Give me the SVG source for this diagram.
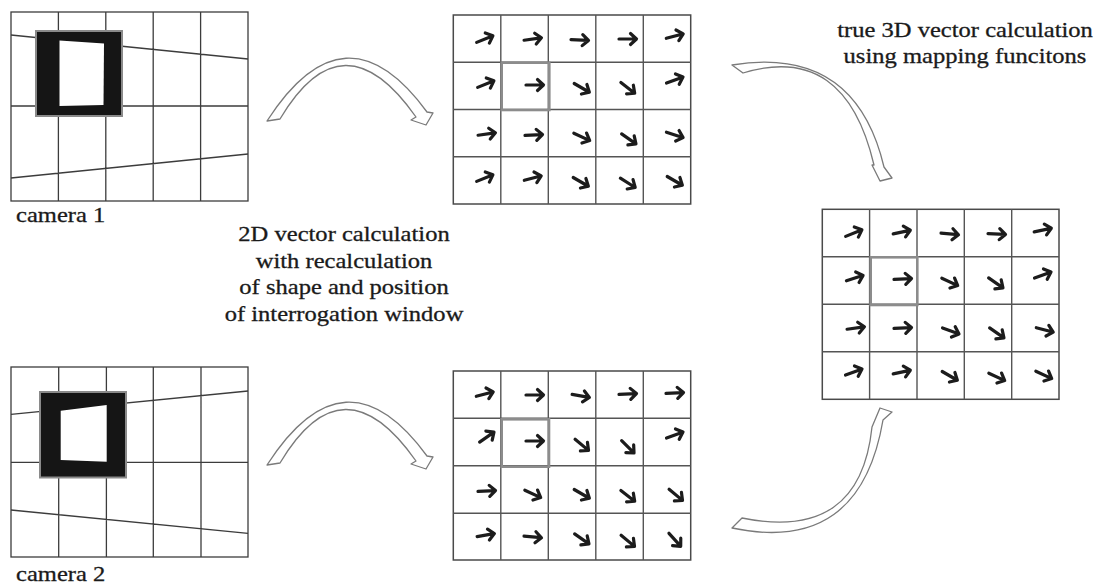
<svg xmlns="http://www.w3.org/2000/svg" xmlns:xlink="http://www.w3.org/1999/xlink" width="1100" height="588" viewBox="0 0 1100 588">
<style>
.bg{fill:#ffffff}
.cg{fill:none;stroke:#3c3c3c;stroke-width:1.3}
.cb{fill:#151515;stroke:#8a8a8a;stroke-width:2}
.win{fill:#ffffff}
.vg{fill:#ffffff;stroke:#4a4a4a;stroke-width:1.5}
.vl{fill:none;stroke:#555;stroke-width:1.4}
.hl{fill:none;stroke:#8c8c8c;stroke-width:2.6}
.vec{fill:none;stroke:#1c1c1c;stroke-width:3.2;stroke-linecap:round;stroke-linejoin:round}
.rib{fill:#ffffff;stroke:#7a7a7a;stroke-width:1.3;stroke-linejoin:round}
.t{font-family:"Liberation Serif","Times New Roman",serif;font-size:21px;fill:#1a1a1a;stroke:#1a1a1a;stroke-width:0.3}
</style>
<defs>
<path id="a" class="vec" d="M-9,0H8M2.5,-5.5L8.5,0L2.5,5.5"/>
</defs>
<rect class="bg" x="0" y="0" width="1100" height="588"/>

<g id="camera1">
<rect class="cg" x="11" y="12" width="237" height="189" fill="#fff"/>
<path class="cg" d="M58.4,12V201M105.8,12V201M153.2,12V201M200.6,12V201M11,106H248M11,35L248,59M11,178L248,154"/>
<rect class="cb" x="36" y="31" width="86" height="85"/>
<polygon class="win" points="59.5,40.5 104,43.5 103.5,105 59.5,106"/>
<text class="t" transform="translate(16,222) scale(1.17,1)">camera 1</text>
</g>

<g id="camera2">
<rect class="cg" x="11" y="367" width="237" height="190" fill="#fff"/>
<path class="cg" d="M58.7,367V557M106.4,367V557M153.3,367V557M201,367V557M11,462.3H248M11,414.3L248,391M11,510L248,533.3"/>
<rect class="cb" x="40" y="392" width="86" height="85.5"/>
<polygon class="win" points="60.7,410.7 106.7,405 106.7,461.7 60.7,460"/>
<text class="t" transform="translate(16,581) scale(1.17,1)">camera 2</text>
</g>

<g id="grid-top">
<rect class="vg" x="453.3" y="15" width="237.4" height="189"/>
<path class="vl" d="M500.8,15V204M548.3,15V204M595.8,15V204M643.3,15V204M453.3,62.3H690.7M453.3,109.5H690.7M453.3,156.8H690.7"/>
<rect class="hl" x="501.7" y="62.7" width="47.6" height="47.3"/>
<use xlink:href="#a" transform="translate(485,39) rotate(-22)"/>
<use xlink:href="#a" transform="translate(533,39) rotate(-8)"/>
<use xlink:href="#a" transform="translate(580,40) rotate(3)"/>
<use xlink:href="#a" transform="translate(628,39) rotate(0)"/>
<use xlink:href="#a" transform="translate(675,36) rotate(-15)"/>
<use xlink:href="#a" transform="translate(486,84) rotate(-22)"/>
<use xlink:href="#a" transform="translate(535,85) rotate(0)"/>
<use xlink:href="#a" transform="translate(582,88) rotate(30)"/>
<use xlink:href="#a" transform="translate(628,88) rotate(38)"/>
<use xlink:href="#a" transform="translate(675,80) rotate(-20)"/>
<use xlink:href="#a" transform="translate(487,134) rotate(-8)"/>
<use xlink:href="#a" transform="translate(534,135) rotate(-3)"/>
<use xlink:href="#a" transform="translate(582,137) rotate(25)"/>
<use xlink:href="#a" transform="translate(629,139) rotate(35)"/>
<use xlink:href="#a" transform="translate(675,135) rotate(18)"/>
<use xlink:href="#a" transform="translate(485,178) rotate(-22)"/>
<use xlink:href="#a" transform="translate(533,178) rotate(-15)"/>
<use xlink:href="#a" transform="translate(581,182) rotate(30)"/>
<use xlink:href="#a" transform="translate(628,183) rotate(32)"/>
<use xlink:href="#a" transform="translate(675,181) rotate(30)"/>
</g>

<g id="grid-bottom">
<rect class="vg" x="453.3" y="371" width="237.4" height="189"/>
<path class="vl" d="M500.8,371V560M548.3,371V560M595.8,371V560M643.3,371V560M453.3,418.3H690.7M453.3,465.7H690.7M453.3,513.3H690.7"/>
<rect class="hl" x="501.7" y="419.3" width="47.3" height="47.4"/>
<use xlink:href="#a" transform="translate(485,394) rotate(-15)"/>
<use xlink:href="#a" transform="translate(535,395) rotate(0)"/>
<use xlink:href="#a" transform="translate(581,396) rotate(10)"/>
<use xlink:href="#a" transform="translate(628,394) rotate(-3)"/>
<use xlink:href="#a" transform="translate(675,393) rotate(-3)"/>
<use xlink:href="#a" transform="translate(487,437) rotate(-35)"/>
<use xlink:href="#a" transform="translate(535,441) rotate(0)"/>
<use xlink:href="#a" transform="translate(582,445) rotate(40)"/>
<use xlink:href="#a" transform="translate(628,447) rotate(45)"/>
<use xlink:href="#a" transform="translate(675,435) rotate(-20)"/>
<use xlink:href="#a" transform="translate(487,491) rotate(-3)"/>
<use xlink:href="#a" transform="translate(533,494) rotate(25)"/>
<use xlink:href="#a" transform="translate(582,494) rotate(30)"/>
<use xlink:href="#a" transform="translate(628,496) rotate(38)"/>
<use xlink:href="#a" transform="translate(676,495) rotate(40)"/>
<use xlink:href="#a" transform="translate(486,535) rotate(-10)"/>
<use xlink:href="#a" transform="translate(533,537) rotate(5)"/>
<use xlink:href="#a" transform="translate(582,539) rotate(35)"/>
<use xlink:href="#a" transform="translate(628,541) rotate(40)"/>
<use xlink:href="#a" transform="translate(675,540) rotate(48)"/>
</g>

<g id="grid-3d">
<rect class="vg" x="822.3" y="209.3" width="236.7" height="190"/>
<path class="vl" d="M869.6,209.3V399.3M917,209.3V399.3M964.3,209.3V399.3M1011.7,209.3V399.3M822.3,256.8H1059M822.3,304.3H1059M822.3,351.8H1059"/>
<rect class="hl" x="870.7" y="257.3" width="46.6" height="47.7"/>
<use xlink:href="#a" transform="translate(854,233) rotate(-22)"/>
<use xlink:href="#a" transform="translate(902,232) rotate(-12)"/>
<use xlink:href="#a" transform="translate(950,234) rotate(5)"/>
<use xlink:href="#a" transform="translate(997,234) rotate(3)"/>
<use xlink:href="#a" transform="translate(1043,230) rotate(-12)"/>
<use xlink:href="#a" transform="translate(855,278) rotate(-18)"/>
<use xlink:href="#a" transform="translate(903,279) rotate(-3)"/>
<use xlink:href="#a" transform="translate(950,282) rotate(25)"/>
<use xlink:href="#a" transform="translate(996,283) rotate(35)"/>
<use xlink:href="#a" transform="translate(1043,275) rotate(-20)"/>
<use xlink:href="#a" transform="translate(856,328) rotate(-8)"/>
<use xlink:href="#a" transform="translate(903,328) rotate(-3)"/>
<use xlink:href="#a" transform="translate(951,331) rotate(20)"/>
<use xlink:href="#a" transform="translate(997,333) rotate(35)"/>
<use xlink:href="#a" transform="translate(1045,330) rotate(15)"/>
<use xlink:href="#a" transform="translate(854,372) rotate(-20)"/>
<use xlink:href="#a" transform="translate(902,372) rotate(-12)"/>
<use xlink:href="#a" transform="translate(950,376) rotate(30)"/>
<use xlink:href="#a" transform="translate(997,377) rotate(25)"/>
<use xlink:href="#a" transform="translate(1044,375) rotate(25)"/>
</g>

<g id="connectors">
<path class="rib" d="M267,121 Q345,0 427,112 L433,113 L426,125 L411,120 L416,117 Q343,13 280,119 Z"/>
<path class="rib" d="M267,465 Q345,344 427,456 L433,457 L426,469 L411,464 L416,461 Q343,357 280,463 Z"/>
<path class="rib" d="M732,65 Q855,45 884,167 L892,178 L880,181 L872,165 L874,165 Q845,42 743,73 Z"/>
<path class="rib" d="M732,528 Q860,555 883,420 L892,412 L880,408 L872,427 Q860,542 742,518 Z"/>
</g>

<g id="labels">
<text class="t" text-anchor="middle" transform="translate(344,241) scale(1.17,1)">2D vector calculation</text>
<text class="t" text-anchor="middle" transform="translate(344,267.5) scale(1.17,1)">with recalculation</text>
<text class="t" text-anchor="middle" transform="translate(344,294) scale(1.17,1)">of shape and position</text>
<text class="t" text-anchor="middle" transform="translate(344,320.5) scale(1.17,1)">of interrogation window</text>
<text class="t" text-anchor="middle" transform="translate(965,37) scale(1.17,1)">true 3D vector calculation</text>
<text class="t" text-anchor="middle" transform="translate(965,63) scale(1.17,1)">using mapping funcitons</text>
</g>
</svg>
